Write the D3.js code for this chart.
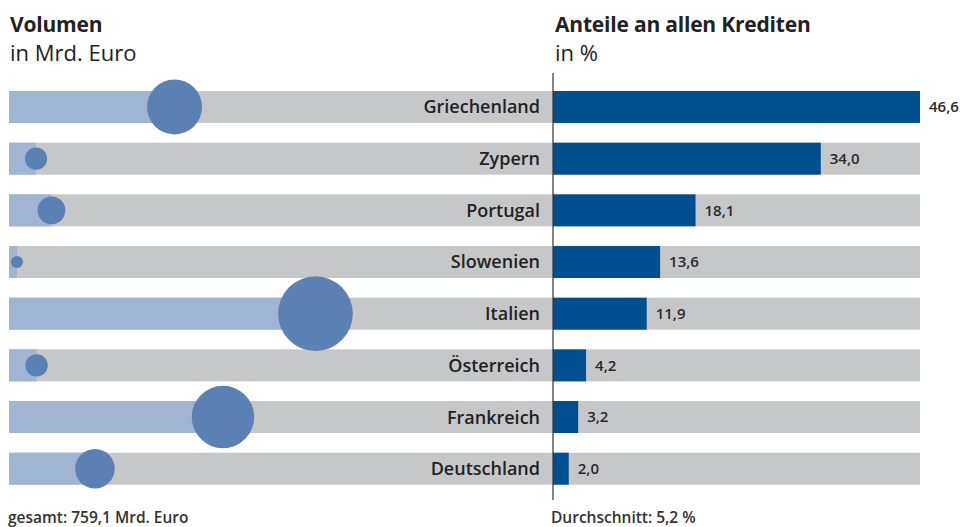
<!DOCTYPE html>
<html>
<head>
<meta charset="utf-8">
<script src="https://cdn.jsdelivr.net/npm/d3@7"></script>
<style>
  body { margin: 0; background: #fff; }
  svg { display: block; font-family: "Open Sans", sans-serif; }
</style>
</head>
<body>
<div id="chart"></div>
<script>
var countries = ['Griechenland', 'Zypern', 'Portugal', 'Slowenien', 'Italien', 'Österreich', 'Frankreich', 'Deutschland'];
var volume = [91.3, 14.9, 23.4, 4.4, 169.0, 15.2, 118.0, 47.4];   // Mrd. Euro
var share = [46.6, 34.0, 18.1, 13.6, 11.9, 4.2, 3.2, 2.0];        // in %
var shareLabels = ['46,6', '34,0', '18,1', '13,6', '11,9', '4,2', '3,2', '2,0'];
var totalText = 'gesamt: 759,1 Mrd. Euro';
var avgText = 'Durchschnitt: 5,2 %';

var W = 963, H = 527;
var left0 = 9, mid = 553, right1 = 920;

var svg = d3.select("#chart").append("svg")
  .attr("width", W)
  .attr("height", H);

var y = d3.scaleBand()
  .domain(countries)
  .range([91, 484.7])
  .paddingInner(0.381)
  .paddingOuter(0);

var xVol = d3.scaleLinear().domain([0, 300]).range([left0, mid]);
var rVol = d3.scaleSqrt().domain([0, 300]).range([0, 49.8]);
var xShare = d3.scaleLinear().domain([0, 46.6]).range([mid, right1]);

var rows = countries.map(function (c, i) {
  return { name: c, vol: volume[i], share: share[i], label: shareLabels[i] };
});

// gray background bars
svg.append("g").selectAll("rect")
  .data(rows)
  .enter()
  .append("rect")
  .attr("x", left0)
  .attr("y", d => y(d.name))
  .attr("width", right1 - left0)
  .attr("height", y.bandwidth())
  .attr("fill", "#c6c7c9");

// volume bars
svg.append("g").selectAll("rect")
  .data(rows)
  .enter()
  .append("rect")
  .attr("x", left0)
  .attr("y", d => y(d.name))
  .attr("width", d => xVol(d.vol) - left0)
  .attr("height", y.bandwidth())
  .attr("fill", "#a0b4d4");

// share bars
svg.append("g").selectAll("rect")
  .data(rows)
  .enter()
  .append("rect")
  .attr("x", mid)
  .attr("y", d => y(d.name))
  .attr("width", d => xShare(d.share) - mid)
  .attr("height", y.bandwidth())
  .attr("fill", "#004f8f");

// volume circles
svg.append("g").selectAll("circle")
  .data(rows)
  .enter()
  .append("circle")
  .attr("cx", d => xVol(d.vol))
  .attr("cy", d => y(d.name) + y.bandwidth() / 2)
  .attr("r", d => rVol(d.vol))
  .attr("fill", "#5b80b3");

// country names
svg.append("g").selectAll("text")
  .data(rows)
  .enter()
  .append("text")
  .attr("x", 540)
  .attr("y", d => y(d.name) + y.bandwidth() / 2)
  .attr("dy", "0.36em")
  .attr("text-anchor", "end")
  .attr("font-size", "18px")
  .attr("font-weight", 600)
  .attr("fill", "#222")
  .text(d => d.name);

// share values
svg.append("g").selectAll("text")
  .data(rows)
  .enter()
  .append("text")
  .attr("x", d => xShare(d.share) + 9)
  .attr("y", d => y(d.name) + y.bandwidth() / 2)
  .attr("dy", "0.36em")
  .attr("font-size", "15px")
  .attr("font-weight", 600)
  .attr("fill", "#2a2a2a")
  .text(d => d.label);

// center axis line
svg.append("line")
  .attr("x1", mid).attr("x2", mid)
  .attr("y1", 73).attr("y2", 500)
  .attr("stroke", "#333")
  .attr("stroke-width", 1.2);

// titles
function title(x, t1, t2) {
  svg.append("text")
    .attr("x", x).attr("y", 31.5)
    .attr("font-size", "21px")
    .attr("font-weight", 700)
    .attr("letter-spacing", "-0.2px")
    .attr("fill", "#222")
    .text(t1);
  svg.append("text")
    .attr("x", x).attr("y", 61)
    .attr("font-size", "22px")
    .attr("fill", "#222")
    .text(t2);
}
title(10, "Volumen", "in Mrd. Euro");
title(555, "Anteile an allen Krediten", "in %");

// footnotes
svg.append("text")
  .attr("x", 8).attr("y", 522.5)
  .attr("font-size", "15.5px")
  .attr("font-weight", 600)
  .attr("fill", "#333")
  .text(totalText);
svg.append("text")
  .attr("x", 551).attr("y", 522.5)
  .attr("font-size", "15.5px")
  .attr("font-weight", 600)
  .attr("fill", "#333")
  .text(avgText);
</script>
</body>
</html>
